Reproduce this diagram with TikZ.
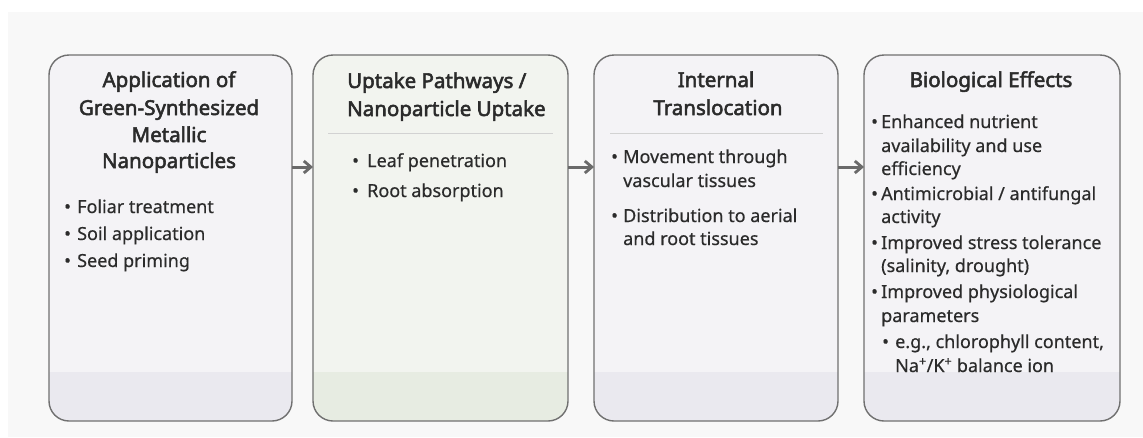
\documentclass[tikz,border=0pt]{standalone}
\usepackage{fontspec}
\setmainfont{Noto Sans}
\newfontfamily\headfont{Noto Sans}[FakeBold=2.6]
\newfontfamily\bodyfont{Noto Sans}[RawFeature={embolden=0.5}]
\usetikzlibrary{arrows.meta}

\definecolor{pagebg}{HTML}{F8F8F8}
\definecolor{boxfill}{HTML}{F4F3F6}
\definecolor{boxband}{HTML}{EAE9EF}
\definecolor{greenfill}{HTML}{F2F4EF}
\definecolor{greenband}{HTML}{E7ECE2}
\definecolor{edge}{HTML}{707070}
\definecolor{rule}{HTML}{D2D2D2}
\definecolor{ink}{HTML}{2B2B2B}
\definecolor{arrowc}{HTML}{6A6A6A}

\tikzset{
  panel/.style={draw=edge, line width=1.4pt, rounded corners=20pt},
  headline/.style={anchor=base, inner sep=0pt, text=ink, font=\headfont\fontsize{20.5}{25}\selectfont\bfseries},
  headleft/.style={anchor=base west, inner sep=0pt, text=ink, font=\headfont\fontsize{20.5}{25}\selectfont\bfseries},
  txt/.style={anchor=base west, inner sep=0pt, text=ink, font=\bodyfont\fontsize{18}{22}\selectfont},
  dot/.style={anchor=base west, inner sep=0pt, text=ink, font=\bodyfont\fontsize{18}{22}\selectfont},
  flow/.style={draw=arrowc, line width=3pt, -{Straight Barb[length=7pt,width=12pt,line width=2.8pt]}},
  sep/.style={draw=rule, line width=1pt}
}

% a panel: light body with a darker strip along the bottom, plus a named node
\newcommand{\panelbox}[5]{%
  \begin{scope}
    \clip[rounded corners=20pt] (#1,55) rectangle (#2,421);
    \fill[#3] (#1,55) rectangle (#2,372);
    \fill[#4] (#1,372) rectangle (#2,421);
  \end{scope}
  \draw[panel] (#1,55) rectangle (#2,421);
  \node[inner sep=0pt, outer sep=0pt, minimum width={#2-#1}, minimum height=366]
    (#5) at ({(#1+#2)/2},238) {};}

\begin{document}
\begin{tikzpicture}[x=1pt,y=-1pt]
% canvas
\useasboundingbox (0,0) rectangle (1143,437);
\fill[white] (0,0) rectangle (1143,437);
\fill[pagebg] (8,12) rectangle (1143,437);

\panelbox{49}{292}{boxfill}{boxband}{p1}
\panelbox{313}{568}{greenfill}{greenband}{p2}
\panelbox{594}{838}{boxfill}{boxband}{p3}
\panelbox{864}{1120}{boxfill}{boxband}{p4}

% panel 1
\node[headline] (h1a) at (169,87) {Application of};
\node[headline] (h1b) at (169,115) {Green-Synthesized};
\node[headline] (h1c) at (169,142) {Metallic};
\node[headline] (h1d) at (169,168) {Nanoparticles};
\node[dot] (d1a) at (64,213) {•};
\node[txt] (l1a) at (77,213) {Foliar treatment};
\node[dot] (d1b) at (64,240) {•};
\node[txt] (l1b) at (77,240) {Soil application};
\node[dot] (d1c) at (64,267) {•};
\node[txt] (l1c) at (77,267) {Seed priming};

% panel 2
\node[headleft] (h2a) at (347,88) {Uptake Pathways /};
\node[headleft] (h2b) at (347,116) {Nanoparticle Uptake};
\draw[sep] (328,133) -- (553,133);
\node[dot] (d2a) at (352,167) {•};
\node[txt] (l2a) at (367,167) {Leaf penetration};
\node[dot] (d2b) at (352,197) {•};
\node[txt] (l2b) at (367,197) {Root absorption};

% panel 3
\node[headline] (h3a) at (716,87) {Internal};
\node[headline] (h3b) at (718,115) {Translocation};
\draw[sep] (610,133) -- (823,133);
\node[dot] (d3a) at (611,163) {•};
\node[txt] (l3a) at (623,163) {Movement through};
\node[txt] (l3b) at (623,187) {vascular tissues};
\node[dot] (d3b) at (611,222) {•};
\node[txt] (l3c) at (623,222) {Distribution to aerial};
\node[txt] (l3d) at (623,245) {and root tissues};

% panel 4
\node[headline] (h4a) at (991,87) {Biological Effects};
\node[dot] (d4a) at (871,128) {•};
\node[txt] (l4a) at (881,128) {Enhanced nutrient};
\node[txt] (l4b) at (881,152) {availability and use};
\node[txt] (l4c) at (881,175) {efficiency};
\node[dot] (d4b) at (871,200) {•};
\node[txt] (l4d) at (881,200) {Antimicrobial / antifungal};
\node[txt] (l4e) at (881,223) {activity};
\node[dot] (d4c) at (871,249) {•};
\node[txt] (l4f) at (881,249) {Improved stress tolerance};
\node[txt] (l4g) at (881,272) {(salinity, drought)};
\node[dot] (d4d) at (871,298) {•};
\node[txt] (l4h) at (881,298) {Improved physiological};
\node[txt] (l4i) at (881,322) {parameters};
\node[dot] (d4e) at (882,348) {•};
\node[txt] (l4j) at (895,348) {e.g., chlorophyll content,};
\node[txt] (l4k) at (895,372) {Na\textsuperscript{+}/K\textsuperscript{+} balance ion};

% connectors between panels
\draw[flow] (p1.east |- 0,167) -- (p2.west |- 0,167);
\draw[flow] (p2.east |- 0,167) -- (p3.west |- 0,167);
\draw[flow] (p3.east |- 0,167) -- (p4.west |- 0,167);
\end{tikzpicture}
\end{document}
